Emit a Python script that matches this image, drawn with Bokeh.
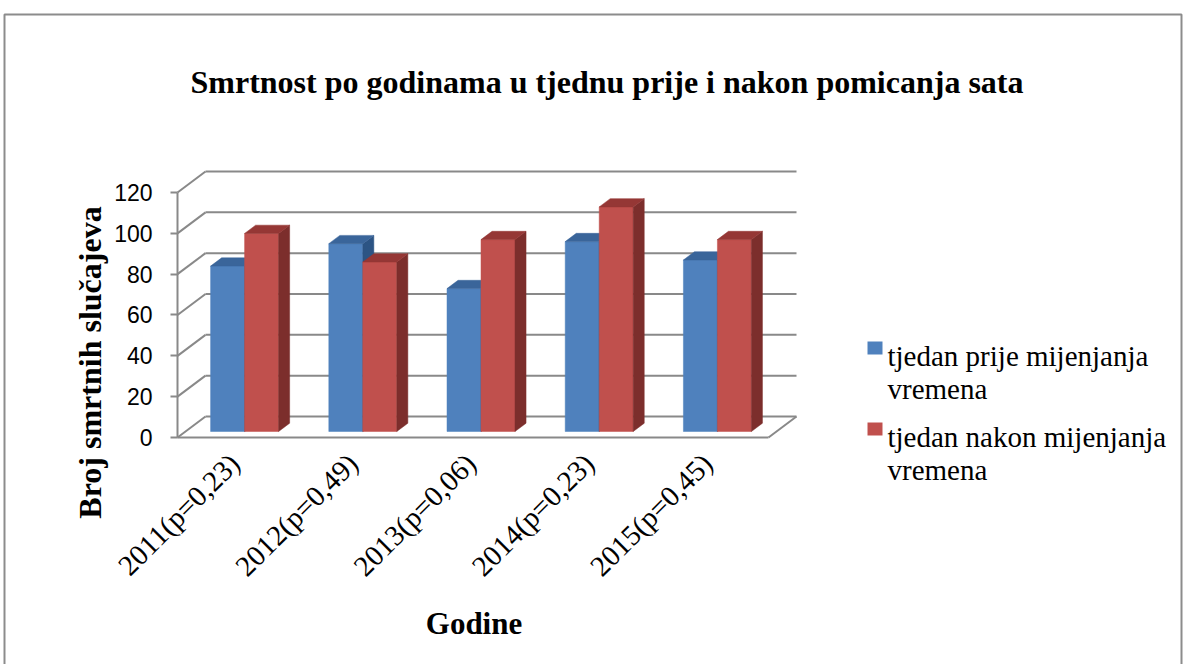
import numpy as np
from math import pi
from bokeh.plotting import figure
from bokeh.models import LinearAxis, FixedTicker, Range1d
from bokeh.core.properties import value
from bokeh.embed import file_html
from bokeh.resources import INLINE

# ---------------- data ----------------
title = "Smrtnost po godinama u tjednu prije i nakon pomicanja sata"
categories = ["2011(p=0,23)", "2012(p=0,49)", "2013(p=0,06)", "2014(p=0,23)", "2015(p=0,45)"]
before = [81, 92, 70, 93, 84]     # tjedan prije mijenjanja vremena
after = [97, 83, 94, 110, 94]     # tjedan nakon mijenjanja vremena
series_names = ["tjedan prije mijenjanja vremena", "tjedan nakon mijenjanja vremena"]
y_ticks = [0, 20, 40, 60, 80, 100, 120]
y_title = "Broj smrtnih slučajeva"
x_title = "Godine"

# ---------------- layout / style ----------------
W, H = 1183, 664
PX_X = 118.2            # px per category
PX_Y = 2.0417           # px per value unit
OX, OY = 177, 437       # pixel position of (category 0, value 0) on the front edge

def px2x(px):
    return (px - OX) / PX_X

def py2y(py):
    return (OY - py) / PX_Y

DX, DY = 28 / PX_X, 21 / PX_Y      # depth vector of the 3D box
F0, F1 = 0.286, 0.68                # bar depth (front / back fraction)
BW = 34 / PX_X                      # bar width
GRID = "#898989"
SERIF = "Liberation Serif"

p = figure(width=W, height=H, output_backend="svg", toolbar_location=None,
           x_range=Range1d(px2x(0), px2x(W)), y_range=Range1d(py2y(H), py2y(0)),
           x_axis_location=None, y_axis_location=None, min_border=0,
           outline_line_color=None, background_fill_color="white")
p.xgrid.visible = False
p.ygrid.visible = False

n = len(categories)
idx = np.arange(n)
tk = np.array(y_ticks, dtype=float)

# chart border
p.quad(left=[px2x(4)], right=[px2x(1181)], top=[py2y(14)], bottom=[py2y(H + 50)],
       fill_color=None, line_color="#8c8c8c", line_width=2)

# back wall gridlines
p.segment(x0=np.full(len(tk), DX), x1=np.full(len(tk), n + DX), y0=tk + DY, y1=tk + DY,
          line_color=GRID, line_width=2)
# side wall diagonals
p.segment(x0=np.zeros(len(tk)), x1=np.full(len(tk), DX), y0=tk, y1=tk + DY,
          line_color=GRID, line_width=2)
# floor front edge, right edge, front axis line
p.segment(x0=[0, n, 0], x1=[n, n + DX, 0], y0=[0, 0, 0], y1=[0, DY, max(y_ticks)],
          line_color=GRID, line_width=2)

# 3D bars
styles = [("#4F81BD", "#2C5484", "#3A659A"), ("#C0504D", "#7C2E2C", "#953735")]
for s, vals in enumerate([before, after]):
    v = np.array(vals, dtype=float)
    left = idx + 0.5 - BW + s * BW
    right = left + BW
    front, side, top = styles[s]
    p.quad(left=left + F0 * DX, right=right + F0 * DX, bottom=np.full(n, F0 * DY),
           top=v + F0 * DY, fill_color=front, line_color=front, line_width=0.5)
    sx = [[r + F0 * DX, r + F1 * DX, r + F1 * DX, r + F0 * DX] for r in right]
    sy = [[F0 * DY, F1 * DY, h + F1 * DY, h + F0 * DY] for h in v]
    p.patches(xs=sx, ys=sy, fill_color=side, line_color=side, line_width=0.5)
    tx = [[l + F0 * DX, l + BW + F0 * DX, l + BW + F1 * DX, l + F1 * DX] for l in left]
    ty = [[h + F0 * DY, h + F0 * DY, h + F1 * DY, h + F1 * DY] for h in v]
    p.patches(xs=tx, ys=ty, fill_color=top, line_color=top, line_width=0.5)

# y axis
yaxis = LinearAxis(fixed_location=0, ticker=FixedTicker(ticks=y_ticks),
                   axis_line_color=None, major_tick_line_color=GRID, major_tick_line_width=2,
                   major_tick_out=7, major_tick_in=0, minor_tick_line_color=None,
                   major_label_text_font="Liberation Sans", major_label_text_font_size="23px",
                   major_label_text_color="#000000", major_label_standoff=18)
p.add_layout(yaxis, "left")

# x axis (category labels, rotated)
shift = -0.018
xt = [round(i + 0.5 + shift, 3) for i in range(n)]
xaxis = LinearAxis(fixed_location=py2y(440), ticker=FixedTicker(ticks=xt),
                   major_label_overrides={t: c for t, c in zip(xt, categories)},
                   major_label_orientation=pi / 4, axis_line_color=None,
                   major_tick_line_color=None, minor_tick_line_color=None,
                   major_label_text_font=SERIF, major_label_text_font_size="29px",
                   major_label_text_color="#000000", major_label_standoff=12)
p.add_layout(xaxis, "below")

# titles
p.text(x=[px2x(606.5)], y=[py2y(81)], text=[title], text_align="center",
       text_baseline="alphabetic", text_font=value(SERIF), text_font_style="bold",
       text_font_size=value("32px"), text_color="#000000")
p.text(x=[px2x(473.5)], y=[py2y(623)], text=[x_title], text_align="center",
       text_baseline="alphabetic", text_font=value(SERIF), text_font_style="bold",
       text_font_size=value("31px"), text_color="#000000")
p.text(x=[px2x(89)], y=[py2y(362)], text=[y_title], angle=pi / 2,
       text_align="center", text_baseline="alphabetic", text_font=value(SERIF),
       text_font_style="bold", text_font_size=value("32px"), text_color="#000000")

# legend
leg_colors = [styles[0][0], styles[1][0]]
sq_y = [347.5 + k * 81 for k in range(len(series_names))]
p.rect(x=[px2x(874.5)] * len(series_names), y=[py2y(v) for v in sq_y],
       width=15, height=13, width_units="screen", height_units="screen",
       fill_color=leg_colors, line_color=None)
lx, ly, lt = [], [], []
for k, name in enumerate(series_names):
    lines = name.rsplit(" ", 1)
    for j, line in enumerate(lines):
        lx.append(px2x(887))
        ly.append(py2y(355 + k * 81 + j * 33))
        lt.append(line)
p.text(x=lx, y=ly, text=lt, text_align="left", text_baseline="alphabetic",
       text_font=value(SERIF), text_font_size=value("29px"), text_color="#000000")

open("out.html", "w").write(file_html(p, INLINE))
